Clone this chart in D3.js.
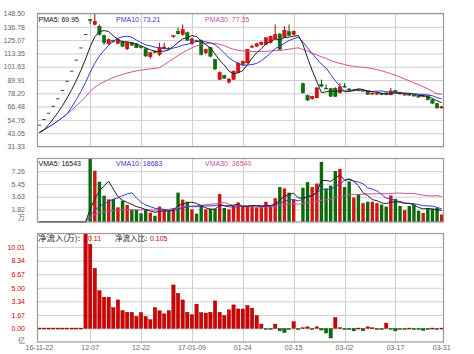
<!DOCTYPE html>
<html><head><meta charset="utf-8">
<script src="https://cdn.jsdelivr.net/npm/d3@7"></script>
<style>
html,body{margin:0;padding:0;background:#fff;}
svg{display:block;}
text{font-family:"Liberation Sans",Arial,sans-serif;}
</style></head><body>
<svg id="chart" width="474" height="354"></svg>
<script>
// ---------- DATA ----------
const tickIndex = [0,11,22,33,44,55,66,77,87];
const tickLabels = ["16-11-22","12-07","12-22","17-01-09","01-24","02-15","03-02","03-17","03-31"];
const priceTicks = [31.33,43.05,54.76,66.48,78.20,89.91,101.63,113.35,125.07,136.78,148.50];
const volTicks = [18160,36320,54480,72640];
const inflowTicks = [0,1.6683,3.3366,5.0049,6.6732,8.3415,10.0098];
const inflowLegend = ["0.11","0.105"];

const open = [50.10,55.11,60.62,66.68,73.35,80.69,88.76,97.64,107.40,118.14,
 129.95,143.20,138.80,137.30,129.10,121.80,124.50,122.00,123.60,117.40,
 122.70,121.80,119.20,117.40,110.40,115.30,112.40,117.40,117.80,129.10,
 132.90,130.00,131.50,121.80,124.70,124.70,113.90,118.30,108.00,90.40,
 93.90,88.00,90.40,96.30,103.60,105.00,119.50,119.70,121.20,121.20,
 122.70,126.20,130.50,127.50,132.40,130.00,null,86.80,76.30,73.40,
 74.20,86.00,82.80,82.20,82.50,78.60,84.50,82.00,80.80,81.20,
 80.50,80.20,77.50,77.60,78.00,78.50,76.80,80.60,79.00,77.20,
 77.40,76.60,76.00,75.20,76.00,72.50,69.20,65.20];
const high = [50.10,55.11,60.62,66.68,73.35,80.69,88.76,97.64,107.40,118.14,
 129.95,143.40,148.50,138.80,130.00,126.50,125.50,126.50,124.50,123.50,
 123.50,122.50,120.00,118.00,114.50,116.00,122.70,122.70,119.00,129.10,
 135.90,138.80,132.50,127.00,125.50,125.50,117.50,119.00,108.60,97.50,
 94.50,91.50,98.30,105.50,107.00,117.00,121.00,122.50,124.00,127.50,
 129.00,138.80,131.00,137.30,138.80,133.50,null,87.50,77.00,76.00,
 83.50,90.30,86.00,83.00,83.50,87.00,87.00,82.80,82.00,81.80,
 81.50,80.50,79.00,79.50,78.50,79.00,82.80,81.00,79.50,78.00,
 77.80,77.00,76.40,76.50,76.30,73.00,69.80,67.00];
const low = [50.10,55.11,60.62,66.68,73.35,80.69,88.76,97.64,107.40,118.14,
 129.95,139.50,138.00,129.10,121.00,121.00,123.00,121.50,119.00,116.20,
 120.00,118.00,117.50,110.50,108.60,113.50,110.90,116.80,117.00,127.00,
 130.00,129.00,124.50,121.00,123.50,111.50,112.50,110.00,99.00,90.00,
 91.00,86.80,90.00,96.00,103.00,104.50,118.00,119.00,120.50,120.80,
 122.00,125.50,116.50,127.00,128.50,129.50,null,78.00,71.50,72.50,
 73.80,83.50,82.00,75.00,75.00,78.00,83.50,80.50,80.00,80.20,
 80.00,76.80,77.00,76.50,76.50,76.50,76.50,78.80,77.20,76.80,
 76.20,75.50,74.50,74.80,72.00,69.00,65.00,64.80];
const close = [50.10,55.11,60.62,66.68,73.35,80.69,88.76,97.64,107.40,118.14,
 129.95,142.95,141.70,130.00,122.70,125.60,124.00,125.50,119.70,123.00,
 120.60,118.30,118.50,111.00,113.90,114.20,118.30,119.00,117.40,129.10,
 130.60,134.40,125.00,126.20,124.40,112.40,116.80,110.90,99.50,96.50,
 91.50,90.80,97.70,104.80,106.50,116.80,119.70,121.80,123.20,127.10,
 128.50,130.00,117.00,133.80,129.10,132.90,null,78.60,72.20,75.60,
 83.00,84.50,82.30,75.60,75.50,83.90,84.00,81.00,81.20,80.80,
 80.80,77.20,78.40,78.20,76.90,77.00,80.30,79.20,77.60,77.40,
 76.60,76.00,74.80,76.00,72.50,69.50,65.20,66.50];

const ma5 = [43.65,45.94,50.54,55.60,61.18,67.30,74.04,81.44,89.58,98.52,
 108.38,119.22,128.04,132.56,133.48,132.60,128.80,125.56,123.50,123.56,
 122.56,121.42,120.02,118.28,116.46,115.18,115.18,115.28,116.56,119.60,
 122.88,126.10,127.30,129.06,128.12,124.48,120.96,118.14,112.80,107.22,
 103.04,97.84,95.20,96.26,98.26,103.32,109.10,113.92,117.60,121.72,
 124.06,126.12,125.16,127.28,127.68,128.56,129.14,121.46,109.14,98.44,
 88.46,78.78,79.52,80.20,80.18,80.36,80.26,80.00,81.12,82.18,
 81.56,80.20,79.68,79.08,78.30,77.54,78.16,78.32,78.20,78.30,
 78.22,77.36,76.48,76.16,75.18,73.76,71.60,69.95];
const ma10 = [43.65,45.94,48.38,51.00,53.80,56.79,59.99,65.99,72.59,79.85,
 87.84,96.63,104.74,111.07,116.00,120.49,124.01,126.80,128.03,128.52,
 127.58,125.11,122.79,120.89,120.01,118.87,118.30,117.65,117.42,118.03,
 119.03,120.64,121.29,122.81,123.86,123.68,123.53,122.72,120.93,117.67,
 113.76,109.40,106.67,104.53,102.74,103.18,103.47,104.56,106.93,109.99,
 113.69,117.61,119.54,122.44,124.70,126.31,127.63,123.31,118.21,113.06,
 108.51,103.96,100.49,94.67,89.31,84.41,79.52,79.76,80.66,81.18,
 80.96,80.23,79.84,80.10,80.24,79.55,79.18,79.00,78.64,78.30,
 77.88,77.76,77.40,77.18,76.74,75.99,74.48,73.21];
const ma30 = [43.65,45.94,48.38,51.00,53.80,56.79,59.99,63.41,67.08,71.00,
 75.21,79.73,83.61,86.34,88.36,90.32,92.00,93.60,94.78,96.01,
 97.03,97.88,98.68,99.13,99.66,100.16,100.77,103.48,106.01,108.80,
 111.48,114.13,116.27,118.26,119.96,121.01,121.95,122.39,122.13,121.41,
 120.12,118.38,116.92,116.08,115.54,115.24,115.10,114.98,115.09,115.23,
 115.49,115.88,115.83,116.59,117.10,117.72,118.21,116.86,115.36,113.57,
 111.99,110.32,108.90,107.21,105.58,104.63,103.54,102.54,101.93,101.41,
 101.05,100.60,99.96,99.07,98.08,96.76,95.44,94.02,92.50,90.85,
 89.12,87.32,85.91,83.98,82.10,79.98,77.73,77.35];

const volume = [300,300,300,300,300,300,300,300,300,300,
 300,90800,73300,57600,37600,32400,32900,21000,30400,24300,
 17100,17100,12400,18100,13300,9000,22000,18000,16000,20000,
 42000,32000,29000,18000,12000,24000,18000,19000,19000,40000,
 20000,18000,23000,28000,22000,22000,23000,21000,21000,29000,
 23000,34000,50000,48000,42000,32000,null,49000,57000,50000,
 55000,86000,48000,52000,73000,76000,50000,58000,35000,40000,
 27000,29000,29000,27000,25000,22000,38000,33000,23000,17000,
 23000,25000,16100,13000,20000,19000,20000,10700];
const vma5 = [300,300,300,300,300,300,300,300,300,300,
 300,18400,33000,44500,51900,58300,46800,36300,30900,28200,
 25100,22000,20300,17800,15600,14000,15000,16100,15700,17000,
 23600,25600,27800,28200,26600,23000,20200,18200,18400,24000,
 23200,23200,24000,25800,22200,22600,23600,23200,21800,23200,
 23400,25600,31400,36800,39400,41200,34400,34200,36000,37600,
 42200,59400,59200,58200,62800,67000,59800,61800,58400,51800,
 42000,37800,32000,30400,27400,26400,28200,29000,28200,26600,
 26800,24200,20800,18800,19400,18600,17600,16543];
const vma10 = [300,300,300,300,300,300,300,300,300,300,
 300,9350,16650,22380,26110,29320,32580,34650,37660,40060,
 41740,34370,28280,24330,21900,19560,18470,18170,16730,16300,
 18790,20280,21940,21930,21800,23300,22900,23000,23300,25300,
 23100,21700,21100,22100,23100,22900,23400,23600,23800,22700,
 23000,24600,27300,29300,31300,32300,30000,32800,36400,38500,
 41700,46900,46700,47100,50200,54600,59600,60500,58300,57300,
 54500,48800,46900,44400,39600,34200,33000,30500,29300,27000,
 26600,26200,24910,23510,23010,22710,20910,18683];
const vma30 = [300,300,300,300,300,300,300,300,300,300,
 300,6330,10520,13290,14640,15570,16440,16660,17280,17590,
 17570,17550,17350,17380,17230,16950,17120,17710,18230,18890,
 20280,21330,22290,22880,23270,24060,24650,25270,25900,27220,
 27880,25450,23770,22790,22270,21920,21590,21590,21280,21430,
 21630,22190,23450,24440,25400,26170,25430,26470,27830,28830,
 29270,31070,31700,32830,34870,36600,37670,38970,39500,39500,
 39730,40100,40300,40270,40370,40370,40870,41270,41330,40930,
 40930,40630,39500,38340,37600,37170,37840,36540];

const inflow = [0.05,0.05,0.05,0.05,0.05,0.05,0.05,0.05,0.05,0.05,
 11.68,10.34,7.40,4.65,3.85,3.85,2.57,3.51,2.20,2.00,
 2.00,1.47,1.96,1.47,1.07,2.57,2.17,1.80,2.20,5.35,
 4.33,3.51,2.00,1.68,2.99,1.96,1.90,2.00,3.39,2.00,
 1.59,2.29,2.90,2.40,2.40,2.82,2.50,1.59,0.54,-0.05,
 -0.05,0.54,-0.30,-0.50,-0.05,0.82,-0.05,0.10,0.20,-0.10,
 0.20,-0.20,-0.56,-1.18,1.35,0.10,-0.08,-0.08,-0.30,0.05,
 -0.30,0.20,0.08,-0.10,-0.10,0.66,-0.08,-0.30,-0.05,-0.05,
 0.05,-0.05,-0.05,-0.25,-0.05,0.05,-0.05,0.05];

// ---------- DRAWING ----------
const svg = d3.select("#chart");
const X0 = 37, X1 = 444;
const n = close.length;
const x = d3.scaleBand().domain(d3.range(n)).range([X0, X1]);
const bw = x.bandwidth();
const cx = i => x(i) + bw / 2;
const barW = 3.4;

const RED = "#dd1111", RED_D = "#aa0000", GRN = "#0c730c", GRN_D = "#045004", FLAT = "#444";
const C5 = "#222222", C10 = "#3a3acc", C30 = "#d2509b";
const GRID = "#cfcfcf", BORDER = "#999";
const SANS = '"Liberation Sans",Arial,sans-serif';
const CJK = '"Noto Sans CJK SC",sans-serif';

const P1 = {top: 13.5, bottom: 146.5};
const P2 = {top: 158.5, bottom: 222};
const P3 = {top: 233.5, bottom: 342};

const yP = d3.scaleLinear().domain([31.33, 148.50]).range([P1.bottom, P1.top]);
const yV = d3.scaleLinear().domain([0, 90800]).range([P2.bottom, P2.top]);
const yF = d3.scaleLinear().domain([-1.6683, 11.6781]).range([P3.bottom, P3.top]);

function panelFrame(p, yScale, ticks, fmt, labelColor) {
  const g = svg.append("g").attr("transform", `translate(${X0},0)`);
  const ax = d3.axisLeft(yScale).tickValues(ticks).tickSize(-(X1 - X0)).tickPadding(12).tickFormat(fmt);
  g.call(ax);
  g.select(".domain").remove();
  g.selectAll(".tick line").attr("stroke", GRID);
  g.selectAll(".tick text").attr("fill", labelColor).style("font-size", "7px").style("font-family", SANS);
  svg.append("g").selectAll("line").data(tickIndex.slice(1, -1)).join("line")
    .attr("x1", i => Math.round(cx(i)) + 0.5).attr("x2", i => Math.round(cx(i)) + 0.5)
    .attr("y1", p.top).attr("y2", p.bottom).attr("stroke", GRID);
}
function border(p) {
  svg.append("rect").attr("x", X0 + 0.5).attr("y", p.top).attr("width", X1 - X0 - 1)
    .attr("height", p.bottom - p.top).attr("fill", "none").attr("stroke", BORDER).attr("stroke-width", 1.2);
}
function legend(items, y) {
  items.forEach(it => {
    const t = svg.append("text").attr("x", it.x).attr("y", y).attr("fill", it.color)
      .style("font-size", it.size || "7px").style("font-family", it.font || SANS)
      .text(it.text);
    if (it.len) t.attr("textLength", it.len).attr("lengthAdjust", "spacingAndGlyphs");
  });
}

// ----- Panel 1: price -----
panelFrame(P1, yP, priceTicks, d3.format(".2f"), "#666");
const candles = svg.append("g");
d3.range(n).filter(i => close[i] != null).forEach(i => {
  const o = open[i], c = close[i];
  const flat = c === o && high[i] === low[i];
  const col = c >= o ? RED : GRN;
  const dark = c >= o ? RED_D : GRN_D;
  if (flat) {
    candles.append("rect").attr("x", cx(i) - barW / 2).attr("y", yP(c) - 0.5)
      .attr("width", barW).attr("height", 1).attr("fill", FLAT);
    return;
  }
  candles.append("line").attr("x1", cx(i)).attr("x2", cx(i))
    .attr("y1", yP(high[i])).attr("y2", yP(low[i])).attr("stroke", dark).attr("stroke-width", 1);
  const yt = yP(Math.max(o, c)), yb = yP(Math.min(o, c));
  candles.append("rect").attr("x", cx(i) - barW / 2).attr("y", yt)
    .attr("width", barW).attr("height", Math.max(1, yb - yt))
    .attr("fill", col).attr("stroke", dark).attr("stroke-width", 0.4);
});
const lineP = d3.line().x((d, i) => cx(i)).y(d => yP(d));
[[ma30, C30], [ma10, C10], [ma5, C5]].forEach(([arr, col]) => {
  svg.append("path").attr("d", lineP(arr)).attr("fill", "none").attr("stroke", col).attr("stroke-width", 1);
});
border(P1);
legend([
  {x: 38.5, text: "PMA5: " + ma5[n - 1].toFixed(2), color: "#111"},
  {x: 116, text: "PMA10: " + ma10[n - 1].toFixed(2), color: C10},
  {x: 205, text: "PMA30: " + ma30[n - 1].toFixed(2), color: C30}
], 22);

// ----- Panel 2: volume -----
panelFrame(P2, yV, volTicks, d => (d / 10000).toFixed(2), "#666");
svg.append("text").attr("x", 25).attr("y", 219.5).attr("text-anchor", "end").attr("fill", "#666")
  .style("font-size", "7px").style("font-family", CJK).text("万");
svg.append("g").selectAll("rect").data(d3.range(n).filter(i => volume[i] != null)).join("rect")
  .attr("x", i => cx(i) - barW / 2).attr("width", barW)
  .attr("y", i => yV(volume[i])).attr("height", i => Math.max(0.6, yV(0) - yV(volume[i])))
  .attr("fill", i => (close[i] === open[i] && high[i] === low[i]) ? FLAT : (close[i] >= open[i] ? "#d21414" : "#0b6b0b"));
const lineV = d3.line().x((d, i) => cx(i)).y(d => yV(d));
[[vma30, C30], [vma10, C10], [vma5, C5]].forEach(([arr, col]) => {
  svg.append("path").attr("d", lineV(arr)).attr("fill", "none").attr("stroke", col).attr("stroke-width", 1);
});
border(P2);
legend([
  {x: 38.5, text: "VMA5: " + vma5[n - 1], color: "#111"},
  {x: 116, text: "VMA10: " + vma10[n - 1], color: C10},
  {x: 205, text: "VMA30: " + vma30[n - 1], color: C30}
], 166);

// ----- Panel 3: net inflow -----
panelFrame(P3, yF, inflowTicks, d3.format(".2f"), "#cc0000");
svg.append("text").attr("x", 25).attr("y", 343).attr("text-anchor", "end").attr("fill", "#666")
  .style("font-size", "7px").style("font-family", CJK).text("亿");
legend([
  {x: 38, text: "净流入(万):", color: "#222", size: "7.5px", font: CJK, len: 42},
  {x: 88, text: inflowLegend[0], color: "#cc0000"},
  {x: 115, text: "净流入比:", color: "#222", size: "7.5px", font: CJK, len: 32},
  {x: 150, text: inflowLegend[1], color: "#cc0000"}
], 241);
svg.append("g").selectAll("rect").data(d3.range(n).filter(i => inflow[i] != null)).join("rect")
  .attr("x", i => cx(i) - barW / 2).attr("width", barW)
  .attr("y", i => Math.max(P3.top, yF(Math.max(0, inflow[i]))))
  .attr("height", i => Math.max(1, Math.abs(yF(inflow[i]) - yF(0))))
  .attr("fill", i => inflow[i] >= 0 ? "#d20000" : "#0b6b0b")
  .attr("stroke", i => inflow[i] >= 0 ? "#8a0000" : "#054505").attr("stroke-width", 0.4);
border(P3);

// date axis
const gx = svg.append("g").attr("transform", `translate(0,${P3.bottom})`)
  .call(d3.axisBottom(x).tickValues(tickIndex).tickSize(0).tickPadding(3)
    .tickFormat(i => tickLabels[tickIndex.indexOf(i)]));
gx.select(".domain").remove();
gx.selectAll("text").attr("fill", "#666").style("font-size", "7px").style("font-family", SANS);
</script>
</body></html>
